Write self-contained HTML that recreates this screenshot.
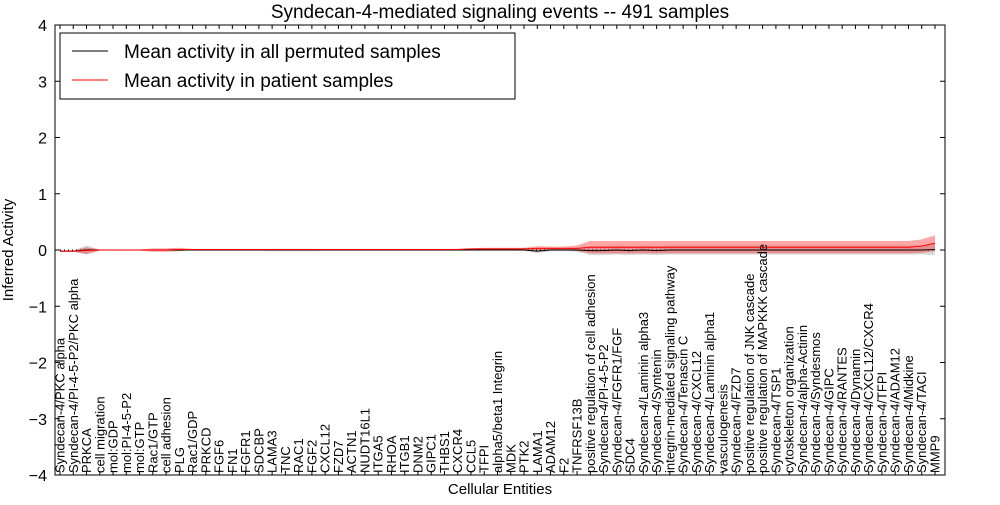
<!DOCTYPE html>
<html><head><meta charset="utf-8"><style>
body{margin:0;background:#fff}
svg text{font-family:"Liberation Sans","DejaVu Sans",sans-serif}
</style></head><body>
<svg id="c" width="1000" height="500"></svg>
<script>
const labels=["Syndecan-4/PKC alpha","Syndecan-4/PI-4-5-P2/PKC alpha","PRKCA","cell migration","mol:GDP","mol:PI-4-5-P2","mol:GTP","Rac1/GTP","cell adhesion","PLG","Rac1/GDP","PRKCD","FGF6","FN1","FGFR1","SDCBP","LAMA3","TNC","RAC1","FGF2","CXCL12","FZD7","ACTN1","NUDT16L1","ITGA5","RHOA","ITGB1","DNM2","GIPC1","THBS1","CXCR4","CCL5","TFPI","alpha5/beta1 Integrin","MDK","PTK2","LAMA1","ADAM12","F2","TNFRSF13B","positive regulation of cell adhesion","Syndecan-4/PI-4-5-P2","Syndecan-4/FGFR1/FGF","SDC4","Syndecan-4/Laminin alpha3","Syndecan-4/Syntenin","integrin-mediated signaling pathway","Syndecan-4/Tenascin C","Syndecan-4/CXCL12","Syndecan-4/Laminin alpha1","vasculogenesis","Syndecan-4/FZD7","positive regulation of JNK cascade","positive regulation of MAPKKK cascade","Syndecan-4/TSP1","cytoskeleton organization","Syndecan-4/alpha-Actinin","Syndecan-4/Syndesmos","Syndecan-4/GIPC","Syndecan-4/RANTES","Syndecan-4/Dynamin","Syndecan-4/CXCL12/CXCR4","Syndecan-4/TFPI","Syndecan-4/ADAM12","Syndecan-4/Midkine","Syndecan-4/TACI","MMP9"];
const patientMean=[-0.02,-0.02,-0.01,0.0,0.0,0.0,0.0,0.0,0.0,0.01,0.01,0.01,0.01,0.01,0.01,0.01,0.01,0.01,0.01,0.01,0.01,0.01,0.01,0.01,0.01,0.01,0.01,0.01,0.01,0.01,0.01,0.02,0.02,0.02,0.02,0.02,0.03,0.03,0.03,0.03,0.05,0.05,0.05,0.05,0.05,0.05,0.05,0.05,0.05,0.05,0.05,0.05,0.05,0.05,0.05,0.05,0.05,0.05,0.05,0.05,0.05,0.05,0.05,0.05,0.05,0.07,0.12];
const patientBand=[0.01,0.01,0.06,0.01,0.01,0.01,0.01,0.03,0.03,0.03,0.01,0.01,0.01,0.01,0.01,0.01,0.01,0.01,0.01,0.01,0.01,0.01,0.01,0.01,0.01,0.01,0.01,0.01,0.01,0.01,0.01,0.01,0.02,0.02,0.02,0.02,0.04,0.03,0.03,0.05,0.11,0.11,0.11,0.11,0.11,0.11,0.11,0.11,0.11,0.11,0.11,0.11,0.11,0.11,0.11,0.11,0.11,0.11,0.11,0.11,0.11,0.11,0.11,0.11,0.11,0.12,0.14];
const permMean=[-0.02,-0.02,0.0,0.0,0.0,0.0,0.0,0.0,0.0,0.0,0.0,0.0,0.0,0.0,0.0,0.0,0.0,0.0,0.0,0.0,0.0,0.0,0.0,0.0,0.0,0.0,0.0,0.0,0.0,0.0,0.0,0.0,0.0,0.0,0.0,0.0,-0.02,0.0,0.0,0.0,-0.01,-0.01,0.0,-0.01,0.0,-0.01,0.0,0.0,0.0,0.0,0.0,0.0,0.0,0.0,0.0,0.0,0.0,0.0,0.0,0.0,0.0,0.0,0.0,0.0,0.0,0.0,0.01];
const permBand=[0.01,0.01,0.08,0.01,0.01,0.01,0.01,0.02,0.02,0.02,0.01,0.01,0.01,0.01,0.01,0.01,0.02,0.02,0.02,0.02,0.01,0.01,0.01,0.01,0.01,0.01,0.01,0.01,0.01,0.01,0.01,0.01,0.01,0.01,0.01,0.01,0.04,0.02,0.02,0.03,0.08,0.08,0.08,0.08,0.08,0.08,0.08,0.08,0.08,0.08,0.08,0.08,0.08,0.08,0.08,0.08,0.08,0.08,0.08,0.08,0.08,0.08,0.08,0.08,0.08,0.08,0.1];
const yTicks=[-4,-3,-2,-1,0,1,2,3,4];

const L=55,R=945,T=25,B=475;
const NS="http://www.w3.org/2000/svg";
const svg=document.getElementById('c');
const x=i=>60+i*(935-60)/(labels.length-1);
const y=v=>T+(4-v)*(B-T)/8;
function el(t,a,p){const e=document.createElementNS(NS,t);for(const k in a)e.setAttribute(k,a[k]);(p||svg).appendChild(e);return e;}

function band(m,b,fill,op,name){
  let d='';
  m.forEach((v,i)=>{d+=(i?'L':'M')+x(i)+','+y(v+b[i]);});
  for(let i=m.length-1;i>=0;i--)d+='L'+x(i)+','+y(m[i]-b[i]);
  const p=el('path',{d:d+'Z',fill:fill,'fill-opacity':op,stroke:'none'});
  
  
}
function line(m,stroke,w,dash,name){
  const p=el('polyline',{points:m.map((v,i)=>x(i)+','+y(v)).join(' '),fill:'none',stroke:stroke,'stroke-width':w});
  if(dash)p.setAttribute('stroke-dasharray',dash);
  
  
}
band(permMean,permBand,'#aaaaaa',0.45,'permuted-band');
band(patientMean,patientBand,'#ff0000',0.35,'patient-band');
line(permMean,'#000',1,null,'permuted-mean-line');
line(labels.map(()=>0),'#000',1,'1,3','zero-line');
line(patientMean,'#ff0000',1,null,'patient-mean-line');

const frame=el('rect',{x:L,y:T,width:R-L,height:B-T,fill:'none',stroke:'#000','stroke-width':1});



yTicks.forEach(v=>{
  el('line',{x1:L,x2:L+5,y1:y(v),y2:y(v),stroke:'#000'});
  el('line',{x1:R-5,x2:R,y1:y(v),y2:y(v),stroke:'#000'});
  const t=el('text',{x:L-8,y:y(v)+6,'text-anchor':'end','font-size':16});
  t.textContent=(v<0?'\u2212'+(-v):v);
  
  
});
labels.forEach((s,i)=>{
  el('line',{x1:x(i),x2:x(i),y1:B,y2:B-4,stroke:'#000'});
  el('line',{x1:x(i),x2:x(i),y1:T,y2:T+4,stroke:'#000'});
  const t=el('text',{transform:`translate(${x(i)+4.5},${B-2}) rotate(-90)`,'font-size':13});
  t.textContent=s;
  
  
});
const ti=el('text',{x:500,y:18,'text-anchor':'middle','font-size':19});
ti.textContent='Syndecan-4-mediated signaling events -- 491 samples';


const xt=el('text',{x:500,y:494,'text-anchor':'middle','font-size':15});
xt.textContent='Cellular Entities';


const yt=el('text',{transform:'translate(13,250) rotate(-90)','text-anchor':'middle','font-size':15});
yt.textContent='Inferred Activity';



const lg=el('g',{});


el('rect',{x:60,y:33,width:455,height:66,fill:'#fff',stroke:'#000'},lg);
el('line',{x1:72,x2:108,y1:51,y2:51,stroke:'#000'},lg);
el('line',{x1:72,x2:108,y1:80,y2:80,stroke:'#f00'},lg);
const l1=el('text',{x:124,y:58,'font-size':19},lg);l1.textContent='Mean activity in all permuted samples';


const l2=el('text',{x:124,y:87,'font-size':19},lg);l2.textContent='Mean activity in patient samples';


</script>
</body></html>
